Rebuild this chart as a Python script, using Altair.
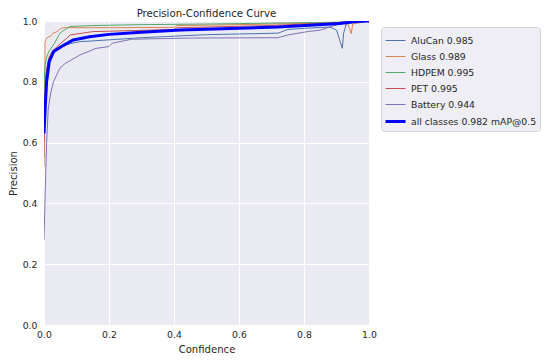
import altair as alt
import pandas as pd

classes = ["AluCan 0.985", "Glass 0.989", "HDPEM 0.995", "PET 0.995",
           "Battery 0.944", "all classes 0.982 mAP@0.5"]
colors = ["#4c72b0", "#dd8452", "#55a868", "#c44e52", "#8172b3", "#0000ff"]
widths = [1, 1, 1, 1, 1, 3]

alucan_conf = [0.0, 0.003, 0.008, 0.015, 0.03, 0.05, 0.07, 0.11, 0.2, 0.3, 0.5, 0.72,
               0.75, 0.8, 0.88, 0.9, 0.912, 0.918, 0.922, 0.93, 0.97, 1.0]
alucan_prec = [0.55, 0.8, 0.84, 0.87, 0.9, 0.916, 0.923, 0.932, 0.938, 0.945, 0.955, 0.96,
               0.972, 0.976, 0.98, 0.97, 0.93, 0.91, 0.96, 0.99, 1.0, 1.0]

glass_conf = [0.0, 0.002, 0.003, 0.006, 0.012, 0.02, 0.028, 0.04, 0.05, 0.06, 0.1, 0.2,
              0.4, 0.41, 0.6, 0.8, 0.9, 0.935, 0.94, 0.945, 0.95, 1.0]
glass_prec = [0.52, 0.7, 0.93, 0.94, 0.947, 0.95, 0.96, 0.965, 0.974, 0.978, 0.978, 0.978,
              0.979, 0.985, 0.988, 0.992, 0.994, 0.99, 0.975, 0.958, 0.99, 1.0]

hdpem_conf = [0.0, 0.003, 0.008, 0.015, 0.025, 0.034, 0.049, 0.058, 0.08, 0.15, 0.3,
              0.5, 0.7, 0.9, 0.95, 1.0]
hdpem_prec = [0.78, 0.855, 0.88, 0.9, 0.915, 0.93, 0.96, 0.967, 0.982, 0.985, 0.988,
              0.99, 0.993, 0.996, 0.998, 1.0]

pet_conf = [0.0, 0.003, 0.008, 0.015, 0.025, 0.04, 0.055, 0.07, 0.08, 0.15, 0.4, 0.41,
            0.7, 0.8, 0.9, 1.0]
pet_prec = [0.6, 0.75, 0.84, 0.88, 0.9, 0.915, 0.93, 0.943, 0.954, 0.965, 0.972, 0.978,
            0.985, 0.99, 0.995, 1.0]

battery_conf = [0.0, 0.004, 0.008, 0.013, 0.02, 0.029, 0.049, 0.065, 0.11, 0.16, 0.2,
                0.21, 0.27, 0.46, 0.72, 0.75, 0.81, 0.85, 0.89, 0.92, 0.96, 1.0]
battery_prec = [0.28, 0.45, 0.6, 0.71, 0.76, 0.8, 0.845, 0.86, 0.888, 0.91, 0.916,
                0.927, 0.94, 0.944, 0.945, 0.954, 0.965, 0.97, 0.984, 0.993, 0.998, 1.0]

all_conf = [0.0, 0.004, 0.008, 0.016, 0.03, 0.06, 0.09, 0.14, 0.2, 0.3, 0.42, 0.6,
            0.72, 0.83, 0.91, 0.96, 1.0]
all_prec = [0.63, 0.72, 0.8, 0.866, 0.9, 0.92, 0.9375, 0.948, 0.956, 0.963, 0.97, 0.976,
            0.98, 0.987, 0.992, 0.998, 1.0]

series = [
    (classes[0], alucan_conf, alucan_prec),
    (classes[1], glass_conf, glass_prec),
    (classes[2], hdpem_conf, hdpem_prec),
    (classes[3], pet_conf, pet_prec),
    (classes[4], battery_conf, battery_prec),
    (classes[5], all_conf, all_prec),
]
rows = []
for name, cs, ps in series:
    for c, p in zip(cs, ps):
        rows.append({"series": name, "conf": c, "prec": p})
df = pd.DataFrame(rows)

FONT = "DejaVu Sans"
TXT = "#262626"
ticks = [0.0, 0.2, 0.4, 0.6, 0.8, 1.0]

legend_cfg = dict(
    title=None, orient="none", legendX=337, legendY=6,
    symbolType="stroke", symbolSize=400,
    labelFontSize=9.3, labelFont=FONT, labelColor=TXT, labelOffset=4,
    fillColor="#eeeef4", strokeColor="#d4d4dc", padding=3,
    cornerRadius=3, rowPadding=-9, labelLimit=300,
)

chart = alt.Chart(df).mark_line(clip=True).encode(
    x=alt.X("conf:Q", scale=alt.Scale(domain=[0, 1], nice=False),
            axis=alt.Axis(values=ticks, format=".1f", title="Confidence",
                          labelPadding=5, titlePadding=5)),
    y=alt.Y("prec:Q", scale=alt.Scale(domain=[0, 1], nice=False),
            axis=alt.Axis(values=ticks, format=".1f", title="Precision",
                          labelPadding=7, titlePadding=4)),
    color=alt.Color("series:N", sort=classes,
                    scale=alt.Scale(domain=classes, range=colors),
                    legend=alt.Legend(**legend_cfg)),
    strokeWidth=alt.StrokeWidth("series:N", sort=classes,
                                scale=alt.Scale(type="ordinal", domain=classes,
                                                range=widths),
                                legend=alt.Legend(**legend_cfg)),
).properties(
    width=325, height=304,
    title=alt.TitleParams("Precision-Confidence Curve", font=FONT, fontSize=10.2,
                          fontWeight="normal", color=TXT, anchor="middle", offset=-2),
    padding={"left": 36, "top": 13, "right": 173, "bottom": 30},
    autosize="none",
).configure_view(
    fill="#eaeaf2", stroke=None
).configure_axis(
    grid=True, gridColor="white", gridWidth=1, domain=False, ticks=False,
    labelFont=FONT, labelFontSize=9.3, labelColor=TXT, labelFlush=False,
    titleFont=FONT, titleFontSize=10.1, titleColor=TXT, titleFontWeight="normal",
)

chart.save("out.html", embed_options={"renderer": "svg", "actions": False})
